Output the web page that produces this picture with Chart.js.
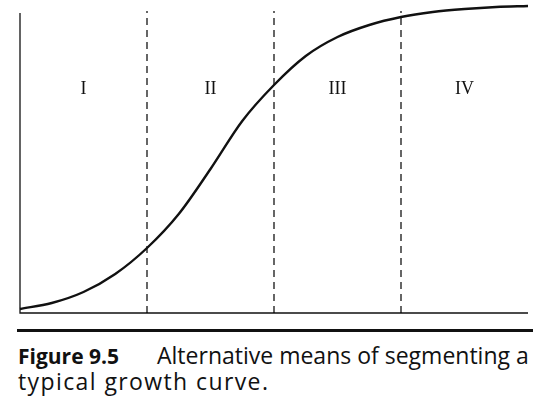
<!DOCTYPE html>
<html>
<head>
<meta charset="utf-8">
<script src="https://cdn.jsdelivr.net/npm/chart.js@4.4.0/dist/chart.umd.min.js"></script>
<style>
    body { margin: 0; background: #fff; width: 545px; height: 407px; position: relative; overflow: hidden; }
    #chart-box { position: absolute; left: 0; top: 0; width: 545px; height: 325px; }
    #rule { position: absolute; left: 17px; top: 329px; width: 516px; height: 0; border-top: 3px solid #111; }
    #caption {
        position: absolute; left: 18px; top: 343px; width: 527px; white-space: nowrap;
        font-family: "Open Sans", "Noto Sans", sans-serif; font-size: 23px; line-height: 25px; color: #111;
    }
    #caption b { font-size: 21px; font-weight: 700; margin-right: 38px; }
    #caption .l2 { letter-spacing: 1.4px; }
</style>
</head>
<body>
<div id="chart-box"><canvas id="growthChart"></canvas></div>
<div id="rule"></div>
<div id="caption"><b>Figure 9.5</b>Alternative means of segmenting a<br><span class="l2">typical growth curve.</span></div>
<script>
// Growth curve (x in segment units, y in height above baseline)
const curveX = [0, 0.25, 0.5, 0.75, 1, 1.25, 1.5, 1.75, 2, 2.25, 2.5, 2.75, 3, 3.25, 3.5, 3.75, 4];
const curveY = [4, 10, 21, 39, 65, 99, 144, 192, 228, 257, 276, 288, 296, 301, 304, 306, 307];

// Segment boundaries and labels
const boundaries = [1, 2, 3];
const segmentLabels = ['I', 'II', 'III', 'IV'];
const labelX = [0.5, 1.5, 2.5, 3.5];
const labelY = 224;
const boundaryTop = 302;
const axisTop = 300;
const xMax = 4;
const yMax = 309;

function buildDatasets() {
    const sets = [];
    sets.push({
        data: curveX.map((x, i) => ({ x: x, y: curveY[i] })),
        borderColor: '#111',
        borderWidth: 2.4,
        pointRadius: 0,
        cubicInterpolationMode: 'monotone',
        clip: false
    });
    boundaries.forEach(b => {
        sets.push({
            data: [{ x: b, y: 0 }, { x: b, y: boundaryTop }],
            borderColor: '#000',
            borderWidth: 1.2,
            borderDash: [7, 5],
            pointRadius: 0,
            clip: false
        });
    });
    // axes
    sets.push({
        data: [{ x: 0, y: axisTop }, { x: 0, y: 0 }, { x: xMax, y: 0 }],
        borderColor: '#111',
        borderWidth: 1.3,
        pointRadius: 0,
        tension: 0,
        clip: false
    });
    return sets;
}

const segmentLabelPlugin = {
    id: 'segmentLabels',
    afterDatasetsDraw(chart) {
        const ctx = chart.ctx;
        const xs = chart.scales.x, ys = chart.scales.y;
        ctx.save();
        ctx.font = '18px "Liberation Serif", "DejaVu Serif", serif';
        ctx.fillStyle = '#111';
        ctx.textAlign = 'center';
        ctx.textBaseline = 'middle';
        segmentLabels.forEach((t, i) => {
            ctx.fillText(t, xs.getPixelForValue(labelX[i]), ys.getPixelForValue(labelY));
        });
        ctx.restore();
    }
};

function initializeChart() {
    const ctx = document.getElementById('growthChart');
    new Chart(ctx, {
        type: 'line',
        data: { datasets: buildDatasets() },
        options: {
            responsive: true,
            maintainAspectRatio: false,
            animation: false,
            layout: { padding: { left: 20, right: 17, top: 4, bottom: 12 } },
            plugins: { legend: { display: false }, tooltip: { enabled: false } },
            scales: {
                x: { type: 'linear', min: 0, max: xMax, display: false },
                y: { type: 'linear', min: 0, max: yMax, display: false }
            }
        },
        plugins: [segmentLabelPlugin]
    });
}

document.addEventListener('DOMContentLoaded', initializeChart);
</script>
</body>
</html>
